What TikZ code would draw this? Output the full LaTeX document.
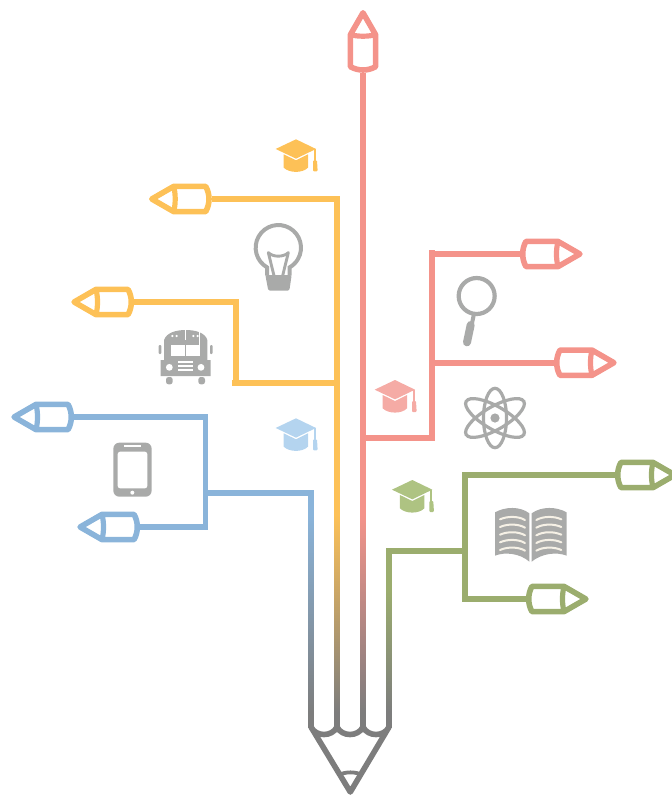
\documentclass[tikz,border=0pt]{standalone}
\definecolor{cblue}{HTML}{8AB4DA}
\definecolor{cyellow}{HTML}{FDC157}
\definecolor{cred}{HTML}{F4938A}
\definecolor{cgreen}{HTML}{9BAD6E}
\definecolor{cgray}{HTML}{7D7D7D}
\definecolor{cicon}{HTML}{A9AAA9}
\definecolor{cbook}{HTML}{F6F1E6}
\definecolor{capblue}{HTML}{B4D4EF}
\definecolor{capred}{HTML}{F5ABA5}
\definecolor{capgreen}{HTML}{AEC382}
\tikzset{
  wire/.style={line width=5.8pt,line cap=butt,line join=miter},
  micro/.style={shift={#1},x=0.33333pt,y=-0.33333pt},
  pencilpic/.pic={
    \draw[line width=5.6pt,line join=round,pic actions]
      (6,-12.6) .. controls (1.6,-5) and (1.6,5) .. (6,12.6) -- (38,12.6) -- (59.9,0) -- (38,-12.6) -- cycle;
    \draw[line width=5.2pt,pic actions]
      (38,-12.6) .. controls (36,-5) and (36,5) .. (38,12.6);
  },
  gradcap/.pic={
    \begin{scope}[x=0.33333pt,y=-0.33333pt]
      \fill[pic actions] (0,0) -- (60,29) -- (0,58) -- (-61,29) -- cycle;
      \fill[pic actions] (-37,45) -- (0,63) -- (36,45) -- (36,85) .. controls (20,102) and (-20,102) .. (-37,85) -- cycle;
      \fill[pic actions] (54,30) rectangle (60,68);
      \fill[pic actions,rounded corners=1pt] (51,63) -- (63,63) -- (65,96) -- (51,96) -- cycle;
    \end{scope}
  },
}
\begin{document}
\begin{tikzpicture}[x=1pt,y=-1pt]
\useasboundingbox (0,0) rectangle (672,796);

% junction coordinates
\coordinate (rpTop) at (363,72.7);
\coordinate (ypA) at (211.7,199);
\coordinate (ypB) at (134,302);
\coordinate (bpA) at (74,417);
\coordinate (bpB) at (140,527);
\coordinate (rpA) at (520,254);
\coordinate (rpB) at (554,362.7);
\coordinate (gpA) at (615,475);
\coordinate (gpB) at (526,599);

\coordinate (bFade) at (311,515);
\coordinate (yFade) at (337,515);
\coordinate (rFade) at (363,515);
\coordinate (gFade) at (389,590);

\coordinate (ySpur) at (232,383);
\coordinate (yJoin) at (236,383);
\coordinate (yT) at (337,383);
\coordinate (bJoin) at (205.5,493);
\coordinate (bT) at (311,493);
\coordinate (rJoin) at (432,437.7);
\coordinate (rT) at (363,437.7);
\coordinate (rTop) at (432,250);
\coordinate (rMid) at (432,362.7);
\coordinate (gJoin) at (465,551);
\coordinate (gT) at (389,551);

% connectors, solid part
\draw[wire,cyellow] (ypA) -| (yFade);
\draw[wire,cyellow] (ypB) -| (yJoin);
\draw[wire,cyellow] (ySpur) -- (yT);
\draw[wire,cblue] (bpA) -| (bJoin) |- (bpB);
\draw[wire,cblue] (bJoin) -- (bT) -- (bFade);
\draw[wire,cred] (rpTop) -- (rFade);
\draw[wire,cred] (rT) -- (rJoin) -- (rTop);
\draw[wire,cred] (rpA) -- (rTop |- rpA);
\draw[wire,cred] (rpB) -- (rMid);
\draw[wire,cgreen] (gpA) -| (gJoin) |- (gpB);
\draw[wire,cgreen] (gJoin) -- (gT) -- (gFade);

% connectors, fading part
\shade[top color=cblue,bottom color=cgray] ([xshift=-2.9pt]bFade) rectangle (313.9,712);
\shade[top color=cyellow,bottom color=cgray] ([xshift=-2.9pt]yFade) rectangle (339.9,712);
\shade[top color=cred,bottom color=cgray] ([xshift=-2.9pt]rFade) rectangle (365.9,712);
\shade[top color=cgreen,bottom color=cgray] ([xshift=-2.9pt]gFade) rectangle (391.9,712);
\fill[cgray] (308.1,711.5) rectangle (313.9,728);
\fill[cgray] (334.1,711.5) rectangle (339.9,728);
\fill[cgray] (360.1,711.5) rectangle (365.9,728);
\fill[cgray] (386.1,711.5) rectangle (391.9,728);

% big pencil point
\draw[cgray,line width=5.6pt,line join=round,line cap=round]
  (311,727) .. controls (316,737) and (332,737) .. (337,727)
  .. controls (342,737) and (358,737) .. (363,727)
  .. controls (368,737) and (384,737) .. (389,727)
  -- (350.3,792) -- cycle;
\draw[cgray,line width=3.8pt] (339,775) .. controls (345,771.5) and (356,771.5) .. (362,775);

% small pencils
\pic[cred,rotate=90] at (rpTop) {pencilpic};
\pic[cyellow,rotate=180] at (ypA) {pencilpic};
\pic[cyellow,rotate=180] at (ypB) {pencilpic};
\pic[cblue,rotate=180] at (bpA) {pencilpic};
\pic[cblue,rotate=180] at (bpB) {pencilpic};
\pic[cred] at (rpA) {pencilpic};
\pic[cred] at (rpB) {pencilpic};
\pic[cgreen] at (gpA) {pencilpic};
\pic[cgreen] at (gpB) {pencilpic};

% caps
\pic[fill=cyellow] at (296,139.3) {gradcap};
\pic[fill=capred] at (395,380) {gradcap};
\pic[fill=capblue] at (296,418.3) {gradcap};
\pic[fill=capgreen] at (412.3,480) {gradcap};

% bulb
\begin{scope}[micro={(140,130)},cicon]
  \draw[line width=4pt] (381,437) -- (381,412) arc[start angle=240,end angle=-60,radius=22.67pt] -- (449,437);
  \draw[line width=2.9pt,line join=round] (402,437) -- (385,368) .. controls (400,382) and (430,382) .. (445,368) -- (428,437);
  \fill[rounded corners=1.5pt] (376,435) -- (455,435) -- (448,482) -- (385,482) -- cycle;
\end{scope}

% magnifier
\begin{scope}[micro={(360,230)},cicon]
  \draw[line width=4.2pt] (350,198) circle[radius=18pt];
  \draw[line width=4pt] (341,256) -- (334,290);
  \draw[line width=8pt,line cap=round] (332,285) -- (321,337);
\end{scope}

% atom
\begin{scope}[micro={(455,380)},cicon]
  \fill (120,114) circle[radius=4.6pt];
  \foreach \a/\r in {90/29.7,30/33.3,-30/33.3}
    \draw[line width=3.2pt,rotate around={\a:(120,114)}] (120,114) circle[x radius=\r pt,y radius=11.5pt];
\end{scope}

% book
\begin{scope}[micro={(490,500)}]
  \fill[cicon] (15,37) .. controls (45,20) and (90,18) .. (118,40) -- (118,185) .. controls (90,160) and (45,155) .. (15,167) -- cycle;
  \fill[cicon] (230,37) .. controls (200,20) and (155,18) .. (125,40) -- (125,185) .. controls (155,160) and (200,155) .. (230,167) -- cycle;
  \foreach \d in {0,23,46,69,92}{
    \draw[cbook,line width=2pt,line cap=round] (30,58+\d) .. controls (52,48+\d) and (85,48+\d) .. (105,60+\d);
    \draw[cbook,line width=2pt,line cap=round] (214,58+\d) .. controls (192,48+\d) and (160,48+\d) .. (139,60+\d);
  }
\end{scope}

% bus
\begin{scope}[micro={(150,325)}]
  \fill[cicon] (42,105) -- (42,45) .. controls (50,22) and (80,15) .. (107,15) .. controls (135,15) and (165,22) .. (172,45) -- (172,105) -- (182,105) -- (182,153) -- (32,153) -- (32,105) -- cycle;
  \fill[cicon,rounded corners=1pt] (26,60) rectangle (34,87);
  \fill[cicon,rounded corners=1pt] (180,60) rectangle (188,87);
  \fill[cicon,rounded corners=2.5pt] (48,156) -- (68,156) -- (68,178) -- (48,178) -- cycle;
  \fill[cicon,rounded corners=2.5pt] (145,156) -- (165,156) -- (165,178) -- (145,178) -- cycle;
  \fill[white] (63,60) rectangle (105,92);
  \fill[white] (108,60) rectangle (150,92);
  \fill[white] (58,127) circle[radius=3.4pt];
  \fill[white] (153,127) circle[radius=3.4pt];
  \foreach \gy in {110,123,135}
    \fill[white] (83,\gy-2.5) rectangle (130,\gy+2.5);
  \foreach \lx in {67,80,130,143}
    \fill[white] (\lx,33) circle[radius=1.2pt];
  \draw[white,line width=0.5pt] (107,15) -- (107,45);
  \draw[white,line width=0.4pt] (147,20) -- (147,60);
\end{scope}

% tablet
\begin{scope}[micro={(0,280)}]
  \fill[cicon,rounded corners=6pt] (340,488) rectangle (455,650);
  \fill[white,rounded corners=2.5pt] (353,515) rectangle (442,625);
  \fill[white] (372,494) rectangle (422,500);
  \fill[white] (397,638) circle[radius=2pt];
\end{scope}
\end{tikzpicture}
\end{document}
